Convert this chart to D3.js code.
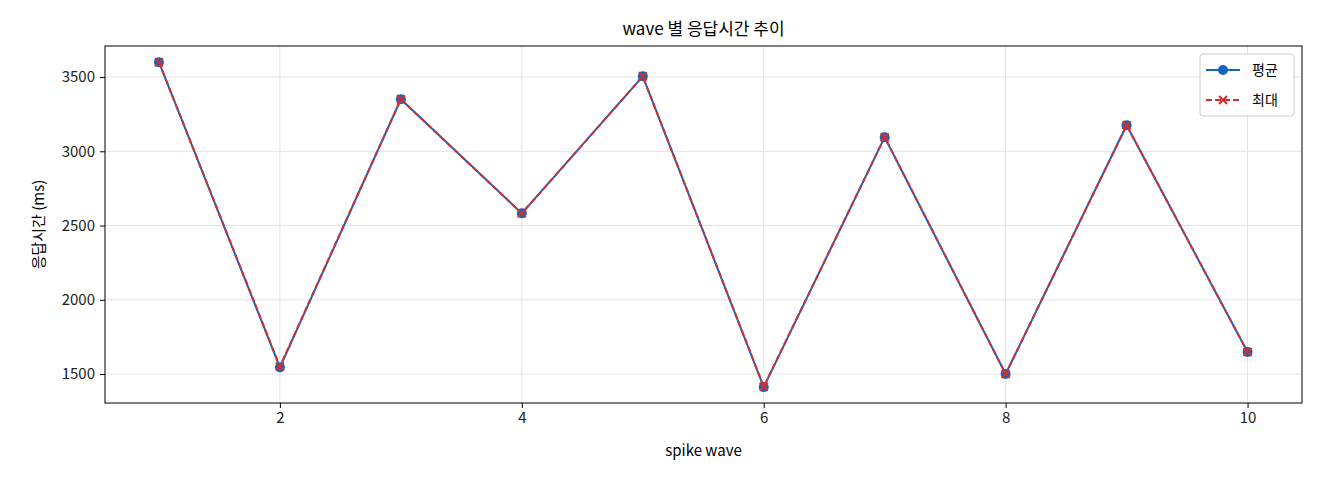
<!DOCTYPE html>
<html><head><meta charset="utf-8">
<script src="https://cdn.jsdelivr.net/npm/d3@7"></script>
<style>body{margin:0;background:#fff}text{font-family:"Noto Sans CJK KR",sans-serif}</style>
</head><body><svg id="c" width="1320" height="480"></svg>
<script>
const waves=[1,2,3,4,5,6,7,8,9,10];
const avgVals=[3600,1545,3350,2582,3505,1412,3095,1500,3175,1648];
const maxVals=[3600,1550,3350,2582,3505,1415,3095,1500,3175,1648];
const xTicks=[2,4,6,8,10];
const yTicks=[1500,2000,2500,3000,3500];
const svg=d3.select("#c");
const L=105,R=1302,T=46,B=403;
const x=d3.scaleLinear().domain([0.554,10.45]).range([L,R]);
const y=d3.scaleLinear().domain([1305,3709]).range([B,T]);
const g=svg.append("g");
g.selectAll(".gx").data(xTicks).join("line").attr("x1",d=>x(d)).attr("x2",d=>x(d)).attr("y1",T).attr("y2",B).attr("stroke","#e3e3e3");
g.selectAll(".gy").data(yTicks).join("line").attr("y1",d=>y(d)).attr("y2",d=>y(d)).attr("x1",L).attr("x2",R).attr("stroke","#e3e3e3");
const xa=svg.append("g").attr("transform",`translate(0,${B})`).call(d3.axisBottom(x).tickValues(xTicks).tickFormat(d3.format("d")).tickSize(5).tickPadding(4));
const ya=svg.append("g").attr("transform",`translate(${L},0)`).call(d3.axisLeft(y).tickValues(yTicks).tickFormat(d3.format("d")).tickSize(5).tickPadding(5));
[xa,ya].forEach(a=>{a.select(".domain").remove();a.selectAll("line").attr("stroke","#000");a.selectAll("text").attr("font-size",15).attr("fill","#222");});
svg.append("rect").attr("x",L).attr("y",T).attr("width",R-L).attr("height",B-T).attr("fill","none").attr("stroke","#000");
const line=d3.line().x((d,i)=>x(waves[i])).y(d=>y(d));
svg.append("path").attr("d",line(avgVals)).attr("fill","none").attr("stroke","#1565c0").attr("stroke-width",2);
svg.selectAll(".pa").data(avgVals).join("circle").attr("cx",(d,i)=>x(waves[i])).attr("cy",d=>y(d)).attr("r",5).attr("fill","#1565c0");
svg.append("path").attr("d",line(maxVals)).attr("fill","none").attr("stroke","#d32f2f").attr("stroke-width",2).attr("stroke-dasharray","6,3");
const cross=(sel,cx,cy)=>{sel.append("path").attr("d",`M${cx-4},${cy-4}L${cx+4},${cy+4}M${cx-4},${cy+4}L${cx+4},${cy-4}`).attr("stroke","#d32f2f").attr("stroke-width",2);};
maxVals.forEach((d,i)=>cross(svg,x(waves[i]),y(d)));
svg.append("text").attr("x",(L+R)/2).attr("y",35).attr("text-anchor","middle").attr("font-size",17).text("wave 별 응답시간 추이");
svg.append("text").attr("x",(L+R)/2).attr("y",456).attr("text-anchor","middle").attr("font-size",15).text("spike wave");
svg.append("text").attr("transform",`translate(44,${(T+B)/2}) rotate(-90)`).attr("text-anchor","middle").attr("font-size",15).text("응답시간 (ms)");
const lg=svg.append("g");
lg.append("rect").attr("x",1200).attr("y",54).attr("width",94).attr("height",62).attr("rx",3).attr("fill","#fff").attr("stroke","#ccc");
lg.append("line").attr("x1",1206).attr("x2",1240).attr("y1",70).attr("y2",70).attr("stroke","#1565c0").attr("stroke-width",2);
lg.append("circle").attr("cx",1223).attr("cy",70).attr("r",5).attr("fill","#1565c0");
lg.append("text").attr("x",1252).attr("y",75).attr("font-size",14).text("평균");
lg.append("line").attr("x1",1206).attr("x2",1240).attr("y1",100).attr("y2",100).attr("stroke","#d32f2f").attr("stroke-width",2).attr("stroke-dasharray","6,3");
cross(lg,1223,100);
lg.append("text").attr("x",1252).attr("y",105).attr("font-size",14).text("최대");
</script></body></html>
